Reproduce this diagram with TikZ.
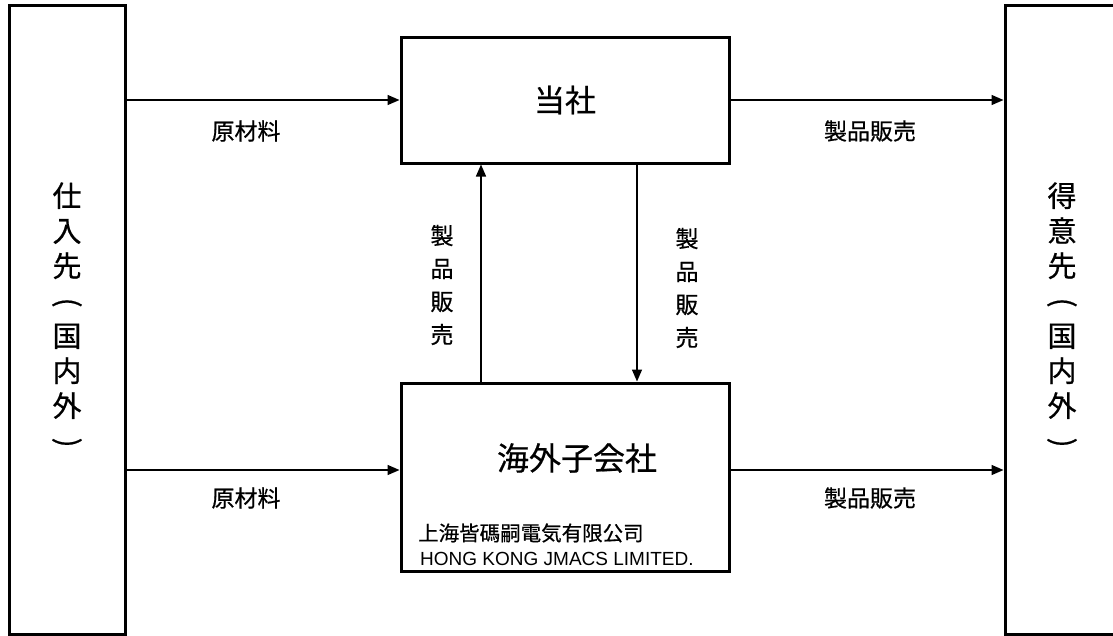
\documentclass[tikz,border=0pt]{standalone}
\usepackage{graphicx}
\usepackage{fontspec}
\setmainfont{Noto Sans CJK JP}[FakeBold=0.6]
\newfontfamily\latinfont{Liberation Sans}
\newcommand{\vopen}{\rotatebox[origin=c]{-90}{(}}
\newcommand{\vclose}{\rotatebox[origin=c]{-90}{)}}
\usetikzlibrary{arrows.meta}
\begin{document}
\begin{tikzpicture}[x=1pt,y=-1pt,
  box/.style={draw,line width=3pt,rectangle,inner sep=0pt},
  arr/.style={line width=1.4pt,-{Triangle[length=12pt,width=10pt]}},
  lab/.style={font=\fontsize{23}{33}\selectfont,inner sep=0pt,align=center},
  side/.style={font=\fontsize{29}{35}\selectfont,inner sep=0pt,align=center}]
\useasboundingbox (0,0) rectangle (1113,635);
\clip (0,0) rectangle (1113,635);
\fill[white] (0,0) rectangle (1113,635);
% side boxes
\node[box,minimum width=116pt,minimum height=629pt] (left) at (67,319.5) {};
\node[box,minimum width=116pt,minimum height=629pt] (right) at (1063,319.5) {};
\node[side] (lefttxt) at (67,317) {仕\\入\\先\\\vopen\\国\\内\\外\\\vclose};
\node[side] (righttxt) at (1062,317) {得\\意\\先\\\vopen\\国\\内\\外\\\vclose};
% center boxes
\node[box,minimum width=328pt,minimum height=126pt,font=\fontsize{31}{31}\selectfont] (top) at (565,100) {当社};
\node[box,minimum width=328pt,minimum height=188pt] (bot) at (565,477) {};
\node[font=\fontsize{32}{32}\selectfont,inner sep=0pt] (botname) at (577,458) {海外子会社};
\node[anchor=west,font=\fontsize{20.5}{20.5}\selectfont,inner sep=0pt] (cn) at (418,533) {上海皆碼嗣電気有限公司};
\node[anchor=west,font=\latinfont\fontsize{19}{19}\selectfont,inner sep=0pt] (en) at (420,559) {HONG KONG JMACS LIMITED.};
% connectors
\coordinate (yb) at (0,470);
\draw[arr] (left.east |- top.west) -- (top.west);
\draw[arr] (top.east) -- (right.west |- top.east);
\draw[arr] (left.east |- yb) -- (bot.west |- yb);
\draw[arr] (bot.east |- yb) -- (right.west |- yb);
\coordinate (xu) at (481,0);
\coordinate (xd) at (637,0);
\draw[arr] (bot.north -| xu) -- (top.south -| xu);
\draw[arr] (top.south -| xd) -- (bot.north -| xd);
% labels
\node[lab] (l1) at (246,131) {原材料};
\node[lab] (l2) at (870,131) {製品販売};
\node[lab] (l3) at (246,498) {原材料};
\node[lab] (l4) at (870,498) {製品販売};
\node[lab] (l5) at (442,285) {製\\品\\販\\売};
\node[lab] (l6) at (687,288) {製\\品\\販\\売};
\end{tikzpicture}
\end{document}
